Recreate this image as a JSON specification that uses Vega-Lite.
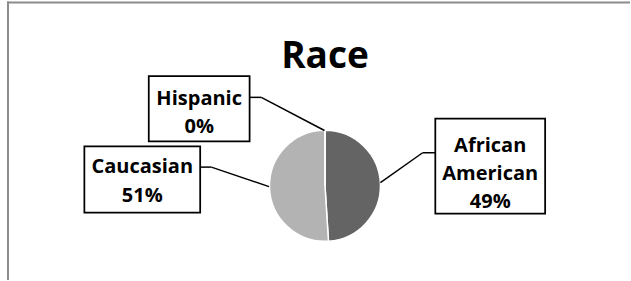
{
  "$schema": "https://vega.github.io/schema/vega-lite/v6.json",
  "width": 631,
  "height": 281,
  "padding": 0,
  "autosize": {"type": "fit", "contains": "padding"},
  "background": "white",
  "config": {"view": {"stroke": null}, "font": "Open Sans"},
  "data": {"values": [
    {"race": "African American", "share": 49},
    {"race": "Caucasian", "share": 51},
    {"race": "Hispanic", "share": 0}
  ]},
  "layer": [
    {
      "data": {"values": [{}]},
      "layer": [
        {"mark": {"type": "rule", "color": "#8c8c8c", "strokeWidth": 2},
         "encoding": {
           "x": {"datum": 7, "type": "quantitative", "scale": {"domain": [0, 631], "nice": false, "zero": false}, "axis": null},
           "y": {"datum": 2.5, "type": "quantitative", "scale": {"domain": [0, 281], "nice": false, "zero": false, "reverse": true}, "axis": null},
           "x2": {"datum": 631}, "y2": {"datum": 2.5}}},
        {"mark": {"type": "rule", "color": "#8c8c8c", "strokeWidth": 2},
         "encoding": {
           "x": {"datum": 8, "type": "quantitative", "scale": {"domain": [0, 631], "nice": false, "zero": false}, "axis": null},
           "y": {"datum": 1.5, "type": "quantitative", "scale": {"domain": [0, 281], "nice": false, "zero": false, "reverse": true}, "axis": null},
           "x2": {"datum": 8}, "y2": {"datum": 281}}},
        {"mark": {"type": "text", "text": "Race", "fontSize": 37, "fontWeight": "bold", "font": "Open Sans", "align": "center", "baseline": "alphabetic", "color": "black"},
         "encoding": {
           "x": {"datum": 325.5, "type": "quantitative", "scale": {"domain": [0, 631], "nice": false, "zero": false}, "axis": null},
           "y": {"datum": 68.5, "type": "quantitative", "scale": {"domain": [0, 281], "nice": false, "zero": false, "reverse": true}, "axis": null}}}
      ]
    },
    {
      "mark": {"type": "arc", "outerRadius": 55.5, "stroke": "white", "strokeWidth": 1.5},
      "encoding": {
        "theta": {"field": "share", "type": "quantitative", "stack": true},
        "order": {"field": "race", "sort": "ascending"},
        "color": {"field": "race", "type": "nominal", "legend": null,
                  "scale": {"domain": ["African American", "Caucasian", "Hispanic"], "range": ["#646464", "#b3b3b3", "#8a8a8a"]}},
        "x": {"datum": 325.5, "type": "quantitative", "scale": {"domain": [0, 631], "nice": false, "zero": false}, "axis": null},
        "y": {"datum": 186.5, "type": "quantitative", "scale": {"domain": [0, 281], "nice": false, "zero": false, "reverse": true}, "axis": null}
      }
    },
    {
      "transform": [
        {"filter": "datum.race == 'Hispanic'"},
        {"calculate": "replace(datum.race, ' ', '\\n') + '\\n' + datum.share + '%'", "as": "label"}
      ],
      "layer": [
        {"mark": {"type": "rule", "color": "black", "strokeWidth": 1.5},
         "encoding": {
           "x": {"datum": 250, "type": "quantitative", "scale": {"domain": [0, 631], "nice": false, "zero": false}, "axis": null},
           "y": {"datum": 97.7, "type": "quantitative", "scale": {"domain": [0, 281], "nice": false, "zero": false, "reverse": true}, "axis": null},
           "x2": {"datum": 261.7}, "y2": {"datum": 97.7}}},
        {"mark": {"type": "rule", "color": "black", "strokeWidth": 1.5},
         "encoding": {
           "x": {"datum": 261.7, "type": "quantitative", "scale": {"domain": [0, 631], "nice": false, "zero": false}, "axis": null},
           "y": {"datum": 97.7, "type": "quantitative", "scale": {"domain": [0, 281], "nice": false, "zero": false, "reverse": true}, "axis": null},
           "x2": {"datum": 325}, "y2": {"datum": 131}}},
        {"mark": {"type": "rect", "fill": "white", "stroke": "black", "strokeWidth": 1.75},
         "encoding": {
           "x": {"datum": 149, "type": "quantitative", "scale": {"domain": [0, 631], "nice": false, "zero": false}, "axis": null},
           "y": {"datum": 76.5, "type": "quantitative", "scale": {"domain": [0, 281], "nice": false, "zero": false, "reverse": true}, "axis": null},
           "x2": {"datum": 250}, "y2": {"datum": 142}}},
        {"mark": {"type": "text", "fontSize": 20, "fontWeight": "bold", "lineBreak": "\n", "lineHeight": 28, "align": "center", "baseline": "middle", "color": "black"},
         "encoding": {
           "text": {"field": "label"},
           "x": {"datum": 199.5, "type": "quantitative", "scale": {"domain": [0, 631], "nice": false, "zero": false}, "axis": null},
           "y": {"datum": 99, "type": "quantitative", "scale": {"domain": [0, 281], "nice": false, "zero": false, "reverse": true}, "axis": null}}}
      ]
    },
    {
      "transform": [
        {"filter": "datum.race == 'Caucasian'"},
        {"calculate": "replace(datum.race, ' ', '\\n') + '\\n' + datum.share + '%'", "as": "label"}
      ],
      "layer": [
        {"mark": {"type": "rule", "color": "black", "strokeWidth": 1.5},
         "encoding": {
           "x": {"datum": 200.5, "type": "quantitative", "scale": {"domain": [0, 631], "nice": false, "zero": false}, "axis": null},
           "y": {"datum": 167.7, "type": "quantitative", "scale": {"domain": [0, 281], "nice": false, "zero": false, "reverse": true}, "axis": null},
           "x2": {"datum": 211.7}, "y2": {"datum": 167.7}}},
        {"mark": {"type": "rule", "color": "black", "strokeWidth": 1.5},
         "encoding": {
           "x": {"datum": 211.7, "type": "quantitative", "scale": {"domain": [0, 631], "nice": false, "zero": false}, "axis": null},
           "y": {"datum": 167.7, "type": "quantitative", "scale": {"domain": [0, 281], "nice": false, "zero": false, "reverse": true}, "axis": null},
           "x2": {"datum": 269.5}, "y2": {"datum": 187.3}}},
        {"mark": {"type": "rect", "fill": "white", "stroke": "black", "strokeWidth": 1.75},
         "encoding": {
           "x": {"datum": 84.5, "type": "quantitative", "scale": {"domain": [0, 631], "nice": false, "zero": false}, "axis": null},
           "y": {"datum": 147, "type": "quantitative", "scale": {"domain": [0, 281], "nice": false, "zero": false, "reverse": true}, "axis": null},
           "x2": {"datum": 200.5}, "y2": {"datum": 213.5}}},
        {"mark": {"type": "text", "fontSize": 20, "fontWeight": "bold", "lineBreak": "\n", "lineHeight": 29, "align": "center", "baseline": "middle", "color": "black"},
         "encoding": {
           "text": {"field": "label"},
           "x": {"datum": 142.5, "type": "quantitative", "scale": {"domain": [0, 631], "nice": false, "zero": false}, "axis": null},
           "y": {"datum": 167.5, "type": "quantitative", "scale": {"domain": [0, 281], "nice": false, "zero": false, "reverse": true}, "axis": null}}}
      ]
    },
    {
      "transform": [
        {"filter": "datum.race == 'African American'"},
        {"calculate": "replace(datum.race, ' ', '\\n') + '\\n' + datum.share + '%'", "as": "label"}
      ],
      "layer": [
        {"mark": {"type": "rule", "color": "black", "strokeWidth": 1.5},
         "encoding": {
           "x": {"datum": 436, "type": "quantitative", "scale": {"domain": [0, 631], "nice": false, "zero": false}, "axis": null},
           "y": {"datum": 153.3, "type": "quantitative", "scale": {"domain": [0, 281], "nice": false, "zero": false, "reverse": true}, "axis": null},
           "x2": {"datum": 423.3}, "y2": {"datum": 153.3}}},
        {"mark": {"type": "rule", "color": "black", "strokeWidth": 1.5},
         "encoding": {
           "x": {"datum": 423.3, "type": "quantitative", "scale": {"domain": [0, 631], "nice": false, "zero": false}, "axis": null},
           "y": {"datum": 153.3, "type": "quantitative", "scale": {"domain": [0, 281], "nice": false, "zero": false, "reverse": true}, "axis": null},
           "x2": {"datum": 381}, "y2": {"datum": 183.3}}},
        {"mark": {"type": "rect", "fill": "white", "stroke": "black", "strokeWidth": 1.75},
         "encoding": {
           "x": {"datum": 436, "type": "quantitative", "scale": {"domain": [0, 631], "nice": false, "zero": false}, "axis": null},
           "y": {"datum": 119, "type": "quantitative", "scale": {"domain": [0, 281], "nice": false, "zero": false, "reverse": true}, "axis": null},
           "x2": {"datum": 546}, "y2": {"datum": 214.5}}},
        {"mark": {"type": "text", "fontSize": 20, "fontWeight": "bold", "lineBreak": "\n", "lineHeight": 28, "align": "center", "baseline": "middle", "color": "black"},
         "encoding": {
           "text": {"field": "label"},
           "x": {"datum": 491, "type": "quantitative", "scale": {"domain": [0, 631], "nice": false, "zero": false}, "axis": null},
           "y": {"datum": 146.5, "type": "quantitative", "scale": {"domain": [0, 281], "nice": false, "zero": false, "reverse": true}, "axis": null}}}
      ]
    }
  ]
}
